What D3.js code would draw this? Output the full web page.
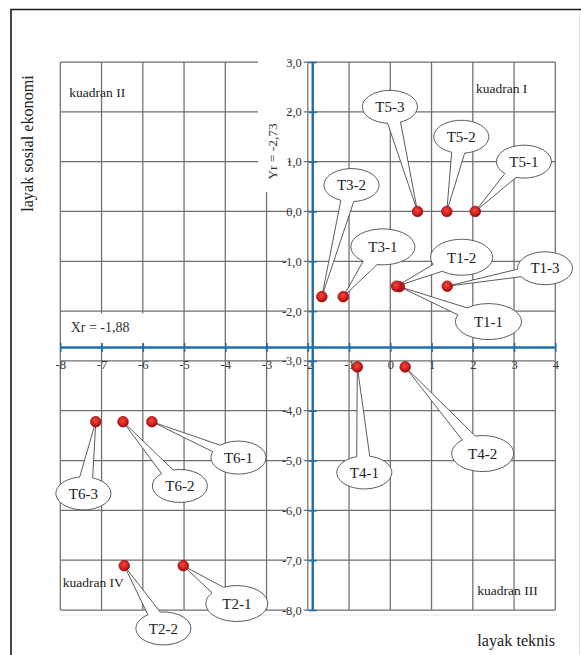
<!DOCTYPE html>
<html><head><meta charset="utf-8">
<script src="https://cdn.jsdelivr.net/npm/d3@7"></script>
<style>
html,body{margin:0;padding:0;background:#fff;}
svg{display:block;}
svg text{font-family:"Liberation Serif","Times New Roman",serif;}
</style></head>
<body>
<svg id="chart" width="581" height="655"></svg>
<script>
// ---- data ----
const pointLabels = ["T1-1","T1-2","T1-3","T2-1","T2-2","T3-1","T3-2","T4-1","T4-2","T5-1","T5-2","T5-3","T6-1","T6-2","T6-3"];
const technical   = [0.22, 0.15, 1.38, -5.02, -6.45, -1.14, -1.66, -0.80, 0.36, 2.06, 1.37, 0.66, -5.78, -6.48, -7.14];
const socioEcon   = [-1.51, -1.50, -1.50, -7.11, -7.11, -1.71, -1.71, -3.12, -3.12, 0.00, 0.00, 0.00, -4.22, -4.22, -4.22];
// callout bubble anchors (data units)
const calloutX    = [2.38, 1.73, 3.75, -3.72, -5.50, -0.18, -0.94, -0.63, 2.24, 3.24, 1.72, -0.01, -3.68, -5.10, -7.44];
const calloutY    = [-2.21, -0.92, -1.14, -7.87, -8.37, -0.71, 0.53, -5.24, -4.86, 1.00, 1.50, 2.10, -4.94, -5.51, -5.66];
const xTicks = [-8,-7,-6,-5,-4,-3,-2,-1,0,1,2,3,4];
const yTicks = [3,2,1,0,-1,-2,-3,-4,-5,-6,-7,-8];
const xMean = -1.88, yMean = -2.73;
const xMeanLabel = "Xr = -1,88", yMeanLabel = "Yr = -2,73";
const quadrantLabels = ["kuadran I","kuadran II","kuadran III","kuadran IV"];
const xTitle = "layak teknis", yTitle = "layak sosial ekonomi";

// ---- chart ----
const FONT = "Liberation Serif, Times New Roman, serif";
const svg = d3.select("#chart");
const x = d3.scaleLinear().domain([-8,4]).range([60.3,555.3]);
const y = d3.scaleLinear().domain([-8,3]).range([610,62]);

const defs = svg.append("defs");
const grad = defs.append("radialGradient").attr("id","dot").attr("cx","45%").attr("cy","40%").attr("r","60%");
grad.append("stop").attr("offset","0%").attr("stop-color","#f04a3a");
grad.append("stop").attr("offset","65%").attr("stop-color","#d01d1d");
grad.append("stop").attr("offset","100%").attr("stop-color","#8e0d0d");

svg.append("rect").attr("width",581).attr("height",655).attr("fill","#fff");
// outer frame
svg.append("path").attr("d","M11,655 V9.5 H581").attr("fill","none").attr("stroke","#1a1a1a").attr("stroke-width",1.6);
svg.append("line").attr("x1",579.5).attr("x2",579.5).attr("y1",11).attr("y2",655).attr("stroke","#e6e6e6").attr("stroke-width",1);

// grid
const grid = svg.append("g").attr("stroke","#6e6e6e").attr("stroke-width",1.25);
grid.selectAll(".vg").data(xTicks).join("line")
  .attr("x1",d=>x(d)).attr("x2",d=>x(d)).attr("y1",y(3)).attr("y2",y(-8));
grid.selectAll(".hg").data(yTicks).join("line")
  .attr("y1",d=>y(d)).attr("y2",d=>y(d)).attr("x1",x(-8)).attr("x2",x(4));
// faint shadow under grid
svg.append("line").attr("x1",x(-8)).attr("x2",x(4)+2).attr("y1",y(-8)+5).attr("y2",y(-8)+5).attr("stroke","#e8e8e8").attr("stroke-width",1.2);

// white label boxes for mean labels
svg.append("rect").attr("x",258).attr("y",50).attr("width",30).attr("height",142).attr("fill","#fff");
svg.append("rect").attr("x",62).attr("y",313.5).attr("width",98).attr("height",30).attr("fill","#fff");

const blue = "#1f6eab";
// x axis (at y = yMean) ticks + labels
const xAxis = svg.append("g").attr("transform",`translate(0,${y(yMean)-4.5})`)
  .call(d3.axisBottom(x).tickValues(xTicks).tickSize(9).tickSizeOuter(0).tickPadding(8).tickFormat(d=>d))
  .attr("font-family",FONT).attr("font-size",12.5);
xAxis.select(".domain").remove();
xAxis.selectAll(".tick line").attr("stroke",blue).attr("stroke-width",1.6);
xAxis.selectAll(".tick text").attr("fill","#333");

// y axis (at x = xMean)
const yAxis = svg.append("g").attr("transform",`translate(${x(xMean)+4},0)`)
  .call(d3.axisLeft(y).tickValues(yTicks).tickSize(8).tickSizeOuter(0).tickPadding(7)
    .tickFormat(d=>d.toFixed(1).replace(".",",")))
  .attr("font-family",FONT).attr("font-size",12.5);
yAxis.select(".domain").remove();
yAxis.selectAll(".tick line").attr("stroke",blue).attr("stroke-width",1.6);
yAxis.selectAll(".tick").each(function(){
  const t = d3.select(this).select("text");
  t.attr("fill","#333");
  const bb = t.node().getBBox();
  d3.select(this).insert("rect","text").attr("x",bb.x+5).attr("y",bb.y+1).attr("width",bb.width-3).attr("height",bb.height-2).attr("fill","#fff");
});

// blue mean lines
svg.append("line").attr("x1",x(-8)).attr("x2",x(4)).attr("y1",y(yMean)).attr("y2",y(yMean))
  .attr("stroke",blue).attr("stroke-width",2.4);
svg.append("line").attr("x1",x(xMean)).attr("x2",x(xMean)).attr("y1",y(3)).attr("y2",y(-8))
  .attr("stroke",blue).attr("stroke-width",2.4);

// mean labels
svg.append("text").attr("transform",`translate(276.5,151.5) rotate(-90)`).attr("text-anchor","middle")
  .attr("fill","#333").attr("font-family",FONT).attr("font-size",13.5).text(yMeanLabel);
svg.append("text").attr("x",70.7).attr("y",332).attr("fill","#333").attr("font-family",FONT).attr("font-size",14).text(xMeanLabel);

// quadrant labels
const qPos = [[476,93.3],[69.3,97.3],[477.3,595],[62.7,586.7]];
svg.selectAll(".q").data(quadrantLabels).join("text")
  .attr("x",(d,i)=>qPos[i][0]).attr("y",(d,i)=>qPos[i][1])
  .attr("fill","#222").attr("font-family",FONT).attr("font-size",13.5).text(d=>d);

// axis titles
svg.append("text").attr("transform","translate(33,143.5) rotate(-90)").attr("text-anchor","middle")
  .attr("fill","#222").attr("font-family",FONT).attr("font-size",16.2).text(yTitle);
svg.append("text").attr("x",477.3).attr("y",645.5).attr("fill","#222").attr("font-family",FONT).attr("font-size",16.2).text(xTitle);

// callouts
const rxs = {"T1-1":33,"T1-2":31,"T3-1":32,"T4-2":31,"T2-1":31};
const data = pointLabels.map((l,i)=>({label:l, px:x(technical[i]), py:y(socioEcon[i]), cx:x(calloutX[i]), cy:y(calloutY[i])}));
const call = svg.append("g");
data.forEach(d=>{
  const rx = rxs[d.label] || 27.5, ry = (rx>30?18:16.5);
  const th = Math.atan2((d.py-d.cy)/ry,(d.px-d.cx)/rx);
  const dl = 0.24;
  const p1 = [d.cx+rx*Math.cos(th+dl), d.cy+ry*Math.sin(th+dl)];
  const p2 = [d.cx+rx*Math.cos(th-dl), d.cy+ry*Math.sin(th-dl)];
  const path = `M${d.px},${d.py} L${p1[0]},${p1[1]} A${rx},${ry} 0 1 1 ${p2[0]},${p2[1]} Z`;
  call.append("path").attr("d",path).attr("fill","#fff").attr("stroke","#4a4a4a").attr("stroke-width",0.9);
  call.append("text").attr("x",d.cx).attr("y",d.cy).attr("dy","0.35em").attr("text-anchor","middle")
    .attr("fill","#222").attr("font-family",FONT).attr("font-size",15).text(d.label);
});

// points
svg.append("g").selectAll("circle").data(data).join("circle")
  .attr("cx",d=>d.px).attr("cy",d=>d.py).attr("r",5.3)
  .attr("fill","url(#dot)").attr("stroke","#9a1414").attr("stroke-width",0.8);
</script>
</body></html>
